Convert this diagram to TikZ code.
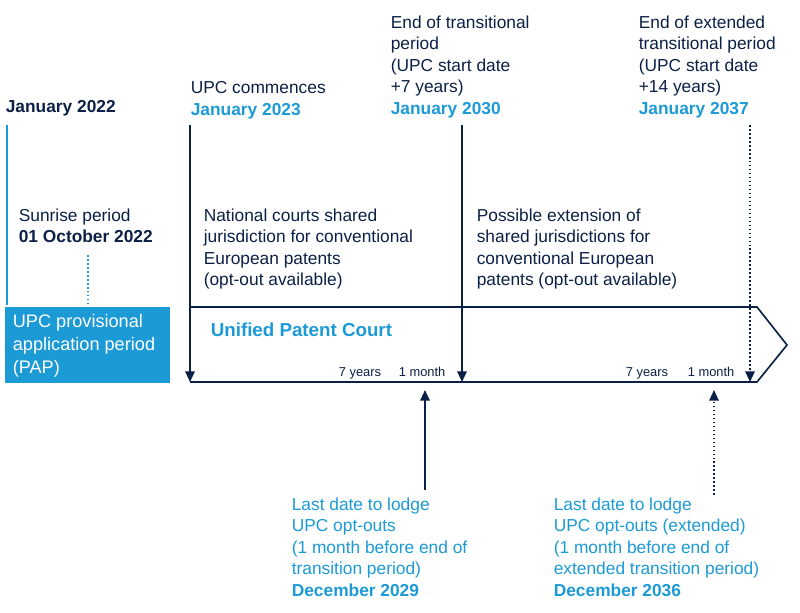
\documentclass[tikz,border=0pt]{standalone}
\usepackage{fontspec}
\setmainfont{Liberation Sans}
\usetikzlibrary{arrows.meta,positioning}
\definecolor{navy}{HTML}{0B2046}
\definecolor{upcblue}{HTML}{1C9AD6}
\begin{document}
\begin{tikzpicture}[
    x = 0.03cm, y = -0.03cm, % one unit per pixel
    > = {Triangle[length=9pt,width=8pt]},
    line width = 1.4pt,
    every node/.style = {inner sep=0pt, align=left, anchor=north west,
                         font=\fontsize{14.8}{18.3}\selectfont},
    label/.style = {text=navy},
    date/.style = {text=upcblue, font=\fontsize{16}{19}\selectfont\bfseries},
    small/.style = {text=navy, anchor=base west, font=\fontsize{11}{13}\selectfont}
    ]

    \useasboundingbox (0,0) rectangle (800,613);

    % headings
    \node[label,font=\fontsize{14.8}{18.3}\selectfont\bfseries] (j22) at (5,100) {January 2022};
    \node[label] (start) at (190,81) {UPC commences\\\textcolor{upcblue}{\bfseries January 2023}};
    \node[label] (end) at (390,15) {End of transitional\\period\\(UPC start date\\+7 years)\\\textcolor{upcblue}{\bfseries January 2030}};
    \node[label] (ext) at (638,15) {End of extended\\transitional period\\(UPC start date\\+14 years)\\\textcolor{upcblue}{\bfseries January 2037}};

    % period texts
    \node[label] (sunrise) at (18,208) {Sunrise period\\\textbf{01 October 2022}};
    \node[label] (natl) at (203,208) {National courts shared\\jurisdiction for conventional\\European patents\\(opt-out available)};
    \node[label] (poss) at (476,208) {Possible extension of\\shared jurisdictions for\\conventional European\\patents (opt-out available)};

    % PAP box
    \fill[upcblue] (5,307) rectangle (170,383);
    \node[text=white,font=\fontsize{15.5}{19.5}\selectfont] (pap) at (12,314) {UPC provisional\\application period\\(PAP)};

    % UPC arrow band
    \draw[navy] (190,307) -- (757,307) -- (787,345) -- (757,382) -- (190,382);
    \node[date] (upc) at (210,322) {Unified Patent Court};

    \node[small] (y1) at (338,376) {7 years};
    \node[small] (m1) at (398,376) {1 month};
    \node[small] (y2) at (625,376) {7 years};
    \node[small] (m2) at (687,376) {1 month};

    % bottom notes
    \node[text=upcblue] (lodge) at (291,497) {Last date to lodge\\UPC opt-outs\\(1 month before end of\\transition period)\\\textbf{December 2029}};
    \node[text=upcblue] (lodgex) at (553,497) {Last date to lodge\\UPC opt-outs (extended)\\(1 month before end of\\extended transition period)\\\textbf{December 2036}};

    % markers
    \coordinate (a1) at (190,125); \coordinate (b1) at (190,382);
    \coordinate (a2) at (462,125); \coordinate (b2) at (462,382);
    \coordinate (a3) at (750,125); \coordinate (b3) at (750,382);
    \coordinate (u1) at (425,490); \coordinate (v1) at (425,390);
    \coordinate (u2) at (714,495); \coordinate (v2) at (714,390);
    \coordinate (s1) at (7,125);   \coordinate (s2) at (7,305);
    \coordinate (d1) at (88,255);  \coordinate (d2) at (88,303);

    \draw[upcblue] (s1) -- (s2);
    \draw[upcblue,dotted] (d1) -- (d2);
    \draw[navy,->] (a1) -- (b1);
    \draw[navy,->] (a2) -- (b2);
    \draw[navy,->,dotted] (a3) -- (b3);
    \draw[navy,->] (u1) -- (v1);
    \draw[navy,->,dotted] (u2) -- (v2);
\end{tikzpicture}
\end{document}
